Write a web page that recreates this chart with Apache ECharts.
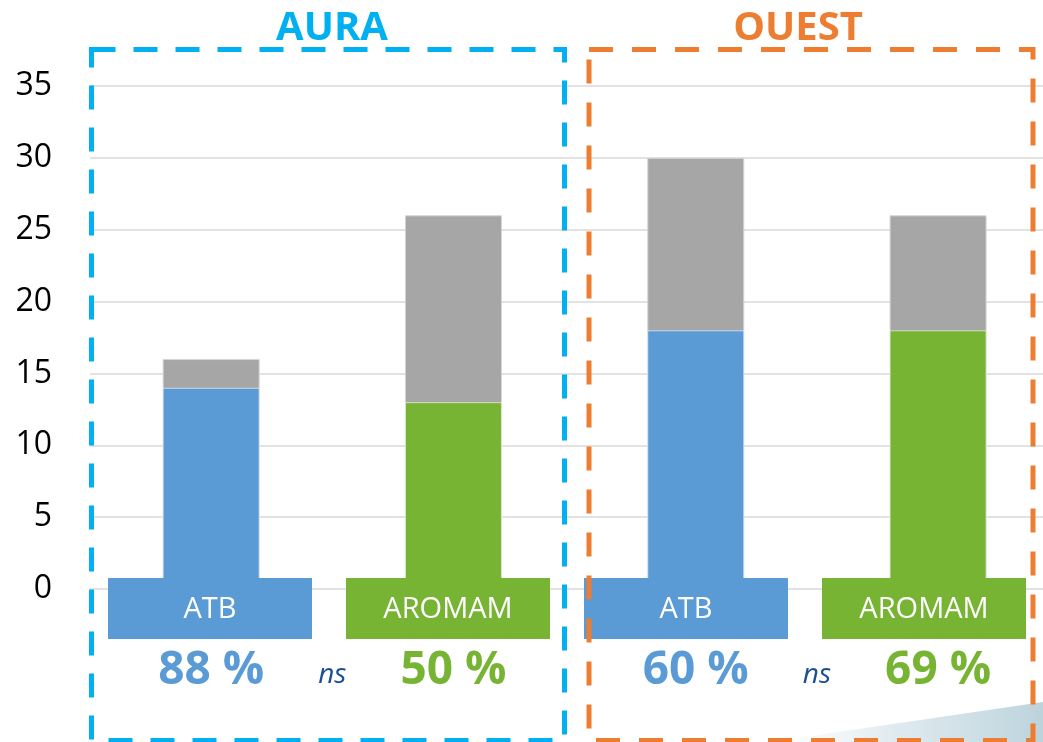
<!DOCTYPE html>
<html>
<head>
<meta charset="utf-8">
<script src="https://cdn.jsdelivr.net/npm/echarts@6/dist/echarts.min.js"></script>
<style>
html,body{margin:0;padding:0;background:#fff;}
#chart{width:1043px;height:742px;}
</style>
</head>
<body>
<div id="chart"></div>
<script>
// ---- data ----
const categories = ['ATB', 'AROMAM', 'ATB', 'AROMAM'];
const regions = ['AURA', 'OUEST'];
const mainValues = [14, 13, 18, 18];     // coloured part of each bar
const totalValues = [16, 26, 30, 26];    // top of the grey part of each bar
const percentLabels = ['88 %', '50 %', '60 %', '69 %'];
const significance = ['ns', 'ns'];
const yMin = 0, yMax = 35, yStep = 5;

// ---- styles ----
const BLUE = '#5b9bd5', GREEN = '#77b433', GREY = '#a6a6a6';
const catColors = [BLUE, GREEN, BLUE, GREEN];
const regionColors = ['#00b0f0', '#ed7d31'];
const FONT = 'Open Sans';

const chart = echarts.init(document.getElementById('chart'), null, {renderer: 'canvas'});

const option = {
  animation: false,
  backgroundColor: '#ffffff',
  grid: [
    {left: 90, top: 86, right: 0, height: 503},
    {left: 91, top: 86, width: 954, height: 503}
  ],
  xAxis: [
    // index axis for the bars (band spacing wider than the visible plot)
    {type: 'value', gridIndex: 0, min: -0.5, max: 3.433, show: false, splitLine: {show: false}},
    {type: 'category', gridIndex: 1, data: categories, show: false}
  ],
  yAxis: [
    {type: 'value', gridIndex: 0, min: yMin, max: yMax, interval: yStep,
     axisLine: {show: false}, axisTick: {show: false},
     axisLabel: {color: '#000', fontSize: 32, fontFamily: FONT, margin: 38},
     splitLine: {lineStyle: {color: '#d9d9d9', width: 1.5}}},
    {type: 'value', gridIndex: 1, min: yMin, max: yMax, interval: yStep, show: false}
  ],
  series: [
    {
      type: 'bar', xAxisIndex: 0, yAxisIndex: 0, barWidth: 97, barGap: '-100%', z: 2,
      data: totalValues.map((v, i) => [i, v]),
      itemStyle: {color: GREY, borderColor: '#d4d4d4', borderWidth: 1}
    },
    {
      type: 'bar', xAxisIndex: 0, yAxisIndex: 0, barWidth: 97, barGap: '-100%', z: 3,
      data: mainValues.map((v, i) => ({value: [i, v], itemStyle: {color: catColors[i]}})),
      itemStyle: {borderColor: 'rgba(255,255,255,0.6)', borderWidth: 1}
    },
    {
      // category label boxes
      type: 'custom', xAxisIndex: 1, yAxisIndex: 1, clip: false, z: 5,
      data: categories.map((c, i) => [i, 0]),
      renderItem: function (params, api) {
        const i = api.value(0);
        const p = api.coord([i, 0]);
        return {
          type: 'group',
          children: [
            {type: 'rect', shape: {x: p[0] - 102, y: p[1] - 11, width: 204, height: 61},
             style: {fill: catColors[i]}},
            {type: 'text', x: p[0], y: p[1] + 21,
             style: {text: categories[i], fill: '#fff', font: '29px "' + FONT + '"',
                     textAlign: 'center', textVerticalAlign: 'middle'}}
          ]
        };
      }
    },
    {
      // percentages & significance
      type: 'custom', xAxisIndex: 0, yAxisIndex: 0, clip: false, z: 5,
      data: percentLabels.map((t, i) => [i, 0]),
      renderItem: function (params, api) {
        const i = api.value(0);
        const p = api.coord([i, 0]);
        const children = [
          {type: 'text', x: p[0], y: p[1] + 82,
           style: {text: percentLabels[i], fill: catColors[i],
                   font: 'bold 46px "' + FONT + '"', textAlign: 'center', textVerticalAlign: 'middle'}}
        ];
        if (i % 2 === 1) {
          const q = api.coord([i - 1, 0]);
          children.push({type: 'text', x: (p[0] + q[0]) / 2, y: p[1] + 86,
            style: {text: significance[(i - 1) / 2], fill: '#1a4f98',
                    font: 'italic 28px "' + FONT + '"', textAlign: 'center', textVerticalAlign: 'middle'}});
        }
        return {type: 'group', children: children};
      }
    }
  ],
  graphic: [
    {type: 'polygon', z: -10, silent: true,
     shape: {points: [[770, 742], [1043, 702], [1043, 742]]},
     style: {fill: new echarts.graphic.LinearGradient(0, 0, 1, 0, [
       {offset: 0, color: 'rgba(230,240,244,0)'},
       {offset: 0.45, color: 'rgba(210,226,233,0.7)'},
       {offset: 1, color: '#bcd3dc'}])}},
    {type: 'rect', z: 10, silent: true,
     shape: {x: 91.5, y: 49.5, width: 473, height: 691},
     style: {fill: 'none', stroke: regionColors[0], lineWidth: 5, lineDash: [24, 18]}},
    {type: 'rect', z: 10, silent: true,
     shape: {x: 589, y: 49.5, width: 444, height: 691},
     style: {fill: 'none', stroke: regionColors[1], lineWidth: 5, lineDash: [24, 19]}},
    {type: 'text', z: 11, x: 332, y: 29,
     style: {text: regions[0], fill: regionColors[0], font: 'bold 40px "' + FONT + '"',
             textAlign: 'center', textVerticalAlign: 'middle'}},
    {type: 'text', z: 11, x: 798, y: 29,
     style: {text: regions[1], fill: regionColors[1], font: 'bold 40px "' + FONT + '"',
             textAlign: 'center', textVerticalAlign: 'middle'}}
  ]
};
chart.setOption(option);
</script>
</body>
</html>
